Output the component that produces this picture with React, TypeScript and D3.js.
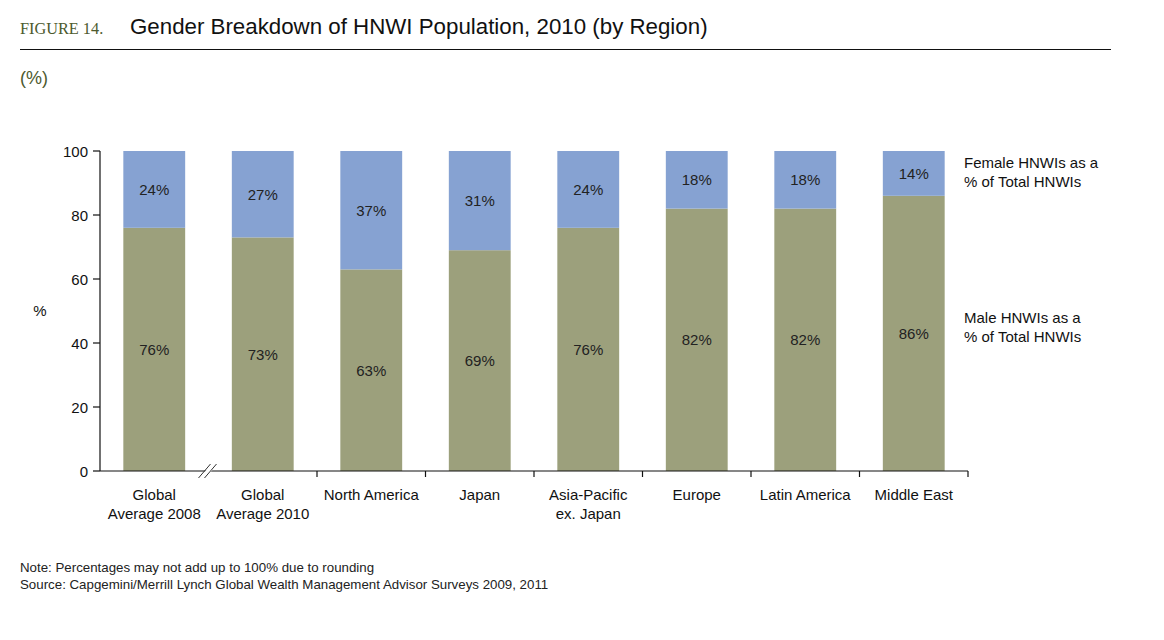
import React from "react";
import * as d3 from "d3";

const categories = [
  ["Global", "Average 2008"],
  ["Global", "Average 2010"],
  ["North America"],
  ["Japan"],
  ["Asia-Pacific", "ex. Japan"],
  ["Europe"],
  ["Latin America"],
  ["Middle East"],
];
const maleValues = [76, 73, 63, 69, 76, 82, 82, 86];
const femaleValues = [24, 27, 37, 31, 24, 18, 18, 14];
const yTicks = [0, 20, 40, 60, 80, 100];
const legendFemale = ["Female HNWIs as a", "% of Total HNWIs"];
const legendMale = ["Male HNWIs as a", "% of Total HNWIs"];

const GREEN = "#9ca07c";
const BLUE = "#86a2d2";
const SANS = "'Liberation Sans', Arial, Helvetica, sans-serif";
const FS = 15;

export default function App() {
  const keys = categories.map((c) => c.join(" "));
  const x = d3
    .scaleBand<string>()
    .domain(keys)
    .range([100, 968])
    .paddingInner(0.43)
    .paddingOuter(0.215);
  const y = d3.scaleLinear().domain([0, 100]).range([471, 151]);
  const step = x.step();
  const boundaries = d3.range(0, keys.length + 1).map((i) => 100 + i * step);

  return (
    <svg
      width={1164}
      height={640}
      style={{ position: "absolute", left: 0, top: 0, background: "#fff" }}
      fontFamily={SANS}
    >
      {/* Title */}
      <text x={20} y={34} fontFamily="'Liberation Serif', 'DejaVu Serif', serif" fontSize={16.3} fill="#4d5a2e">
        FIGURE 14.
      </text>
      <text x={130} y={34} fontSize={22.3} fill="#111">
        Gender Breakdown of HNWI Population, 2010 (by Region)
      </text>
      <line x1={20} x2={1111} y1={49.5} y2={49.5} stroke="#111" strokeWidth={1.2} />
      <text x={20} y={84} fontSize={18} fill="#4d5a2e">
        (%)
      </text>

      {/* Bars */}
      {keys.map((k, i) => {
        const bx = x(k)!;
        const m = maleValues[i];
        const f = femaleValues[i];
        return (
          <g key={k}>
            <rect x={bx} width={x.bandwidth()} y={y(m)} height={y(0) - y(m)} fill={GREEN} />
            <rect x={bx} width={x.bandwidth()} y={y(100)} height={y(m) - y(100)} fill={BLUE} />
            <text
              x={bx + x.bandwidth() / 2}
              y={y(m / 2) + 5.5}
              textAnchor="middle"
              fontSize={FS}
              fill="#222"
            >
              {m}%
            </text>
            <text
              x={bx + x.bandwidth() / 2}
              y={y((m + 100) / 2) + 5.5}
              textAnchor="middle"
              fontSize={FS}
              fill="#222"
            >
              {f}%
            </text>
            {categories[i].map((line, j) => (
              <text
                key={j}
                x={bx + x.bandwidth() / 2}
                y={499.5 + j * 19}
                textAnchor="middle"
                fontSize={FS}
                fill="#111"
              >
                {line}
              </text>
            ))}
          </g>
        );
      })}

      {/* Y axis */}
      <line x1={100} x2={100} y1={y(100)} y2={y(0)} stroke="#111" strokeWidth={1.2} />
      {yTicks.map((t) => (
        <g key={t}>
          <line x1={93} x2={100} y1={y(t)} y2={y(t)} stroke="#111" strokeWidth={1.2} />
          <text x={88} y={y(t) + 5.5} textAnchor="end" fontSize={FS} fill="#111">
            {t}
          </text>
        </g>
      ))}
      <text x={40} y={316} textAnchor="middle" fontSize={FS} fill="#111">
        %
      </text>

      {/* X axis */}
      <line x1={100} x2={boundaries[keys.length]} y1={y(0)} y2={y(0)} stroke="#111" strokeWidth={1.2} />
      {boundaries.slice(2).map((bx, i) => (
        <line key={i} x1={bx} x2={bx} y1={y(0)} y2={y(0) + 6} stroke="#111" strokeWidth={1.2} />
      ))}
      {/* axis break */}
      <g>
        <polygon
          points={`${boundaries[1] - 9},${y(0) + 7} ${boundaries[1] - 3},${y(0) + 7} ${boundaries[1] + 9},${y(0) - 7} ${boundaries[1] + 3},${y(0) - 7}`}
          fill="#fff"
        />
        <line
          x1={boundaries[1] - 10}
          y1={y(0) + 7}
          x2={boundaries[1] + 2}
          y2={y(0) - 7}
          stroke="#333"
          strokeWidth={1}
        />
        <line
          x1={boundaries[1] - 4}
          y1={y(0) + 7}
          x2={boundaries[1] + 8}
          y2={y(0) - 7}
          stroke="#333"
          strokeWidth={1}
        />
      </g>

      {/* Legend */}
      {legendFemale.map((l, i) => (
        <text key={"f" + i} x={964} y={168 + i * 19} fontSize={FS} fill="#111">
          {l}
        </text>
      ))}
      {legendMale.map((l, i) => (
        <text key={"m" + i} x={964} y={323 + i * 19} fontSize={FS} fill="#111">
          {l}
        </text>
      ))}

      {/* Notes */}
      <text x={20} y={572} fontSize={13.3} fill="#222">
        Note: Percentages may not add up to 100% due to rounding
      </text>
      <text x={20} y={589} fontSize={13.3} fill="#222">
        Source: Capgemini/Merrill Lynch Global Wealth Management Advisor Surveys 2009, 2011
      </text>
    </svg>
  );
}
